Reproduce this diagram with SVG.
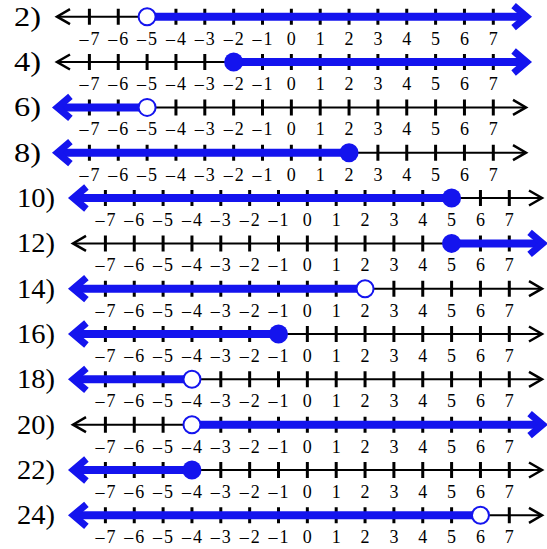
<svg xmlns="http://www.w3.org/2000/svg" xmlns:xlink="http://www.w3.org/1999/xlink" width="547" height="549" viewBox="0 0 547 549">
<style>
.ax{stroke:#000;stroke-width:2;fill:none}
.ah{stroke:#000;stroke-width:2.5;fill:none;stroke-linejoin:miter}
.tk{stroke:#000;stroke-width:3;fill:none}
.bl{stroke:#1414ee;stroke-width:8;fill:none}
.bh{stroke:#1414ee;stroke-width:7;fill:none;stroke-linejoin:miter;stroke-miterlimit:10}
.op{fill:#fff;stroke:#1414ee;stroke-width:2}
.cl{fill:#1414ee}
.lb text{font-family:"Liberation Serif","Times New Roman",serif;font-size:18px;text-anchor:middle;fill:#000}
.num{font-family:"Liberation Serif","Times New Roman",serif;font-size:27px;fill:#000}
</style>
<defs>
<path id="ticks" class="tk" d="M89.4-8v16M118.25-8v16M147.1-8v16M175.95-8v16M204.8-8v16M233.65-8v16M262.5-8v16M291.35-8v16M320.2-8v16M349.05-8v16M377.9-8v16M406.75-8v16M435.6-8v16M464.45-8v16M493.3-8v16"/>
</defs>

<!-- Row 2 -->
<g id="row2">
<text class="num" x="14" y="25.7" textLength="27" lengthAdjust="spacingAndGlyphs">2)</text>
<g transform="translate(0,16.7)">
<path class="ax" d="M57 0H147.1"/>
<polyline class="ah" points="70,-7.5 57,0 70,7.5"/>
<use xlink:href="#ticks"/>
<g class="connectors"><path class="bl" d="M147.1 0H526"/><polyline class="bh" points="513.6,-11 526.6,0 513.6,11"/></g>
<circle class="op" cx="147.1" cy="0" r="8.5"/>
<g class="lb" transform="translate(0,27.8)">
<text x="89.4" textLength="20">–7</text><text x="118.25" textLength="20">–6</text><text x="147.1" textLength="20">–5</text><text x="175.95" textLength="20">–4</text><text x="204.8" textLength="20">–3</text><text x="233.65" textLength="20">–2</text><text x="262.5" textLength="20">–1</text><text x="291.35" textLength="10">0</text><text x="320.2" textLength="10">1</text><text x="349.05" textLength="10">2</text><text x="377.9" textLength="10">3</text><text x="406.75" textLength="10">4</text><text x="435.6" textLength="10">5</text><text x="464.45" textLength="10">6</text><text x="493.3" textLength="10">7</text>
</g></g></g>

<!-- Row 4 -->
<g id="row4">
<text class="num" x="14" y="71" textLength="27" lengthAdjust="spacingAndGlyphs">4)</text>
<g transform="translate(0,62)">
<path class="ax" d="M57 0H233.65"/>
<polyline class="ah" points="70,-7.5 57,0 70,7.5"/>
<use xlink:href="#ticks"/>
<g class="connectors"><path class="bl" d="M233.65 0H526"/><polyline class="bh" points="513.6,-11 526.6,0 513.6,11"/></g>
<circle class="cl" cx="233.65" cy="0" r="9.5"/>
<g class="lb" transform="translate(0,27.8)">
<text x="89.4" textLength="20">–7</text><text x="118.25" textLength="20">–6</text><text x="147.1" textLength="20">–5</text><text x="175.95" textLength="20">–4</text><text x="204.8" textLength="20">–3</text><text x="233.65" textLength="20">–2</text><text x="262.5" textLength="20">–1</text><text x="291.35" textLength="10">0</text><text x="320.2" textLength="10">1</text><text x="349.05" textLength="10">2</text><text x="377.9" textLength="10">3</text><text x="406.75" textLength="10">4</text><text x="435.6" textLength="10">5</text><text x="464.45" textLength="10">6</text><text x="493.3" textLength="10">7</text>
</g></g></g>

<!-- Row 6 -->
<g id="row6">
<text class="num" x="14" y="116.4" textLength="27" lengthAdjust="spacingAndGlyphs">6)</text>
<g transform="translate(0,107.4)">
<path class="ax" d="M147.1 0H526"/>
<polyline class="ah" points="513,-7.5 526,0 513,7.5"/>
<use xlink:href="#ticks"/>
<g class="connectors"><path class="bl" d="M58 0H147.1"/><polyline class="bh" points="70.4,-11 57.4,0 70.4,11"/></g>
<circle class="op" cx="147.1" cy="0" r="8.5"/>
<g class="lb" transform="translate(0,27.8)">
<text x="89.4" textLength="20">–7</text><text x="118.25" textLength="20">–6</text><text x="147.1" textLength="20">–5</text><text x="175.95" textLength="20">–4</text><text x="204.8" textLength="20">–3</text><text x="233.65" textLength="20">–2</text><text x="262.5" textLength="20">–1</text><text x="291.35" textLength="10">0</text><text x="320.2" textLength="10">1</text><text x="349.05" textLength="10">2</text><text x="377.9" textLength="10">3</text><text x="406.75" textLength="10">4</text><text x="435.6" textLength="10">5</text><text x="464.45" textLength="10">6</text><text x="493.3" textLength="10">7</text>
</g></g></g>

<!-- Row 8 -->
<g id="row8">
<text class="num" x="14" y="161.7" textLength="27" lengthAdjust="spacingAndGlyphs">8)</text>
<g transform="translate(0,152.7)">
<path class="ax" d="M349.05 0H526"/>
<polyline class="ah" points="513,-7.5 526,0 513,7.5"/>
<use xlink:href="#ticks"/>
<g class="connectors"><path class="bl" d="M58 0H349.05"/><polyline class="bh" points="70.4,-11 57.4,0 70.4,11"/></g>
<circle class="cl" cx="349.05" cy="0" r="9.5"/>
<g class="lb" transform="translate(0,27.8)">
<text x="89.4" textLength="20">–7</text><text x="118.25" textLength="20">–6</text><text x="147.1" textLength="20">–5</text><text x="175.95" textLength="20">–4</text><text x="204.8" textLength="20">–3</text><text x="233.65" textLength="20">–2</text><text x="262.5" textLength="20">–1</text><text x="291.35" textLength="10">0</text><text x="320.2" textLength="10">1</text><text x="349.05" textLength="10">2</text><text x="377.9" textLength="10">3</text><text x="406.75" textLength="10">4</text><text x="435.6" textLength="10">5</text><text x="464.45" textLength="10">6</text><text x="493.3" textLength="10">7</text>
</g></g></g>

<!-- Row 10 -->
<g id="row10">
<text class="num" x="17" y="207" textLength="38" lengthAdjust="spacingAndGlyphs">10)</text>
<g transform="translate(16,198)">
<path class="ax" d="M435.6 0H526"/>
<polyline class="ah" points="513,-7.5 526,0 513,7.5"/>
<use xlink:href="#ticks"/>
<g class="connectors"><path class="bl" d="M58 0H435.6"/><polyline class="bh" points="70.4,-11 57.4,0 70.4,11"/></g>
<circle class="cl" cx="435.6" cy="0" r="9.5"/>
<g class="lb" transform="translate(0,27.8)">
<text x="89.4" textLength="20">–7</text><text x="118.25" textLength="20">–6</text><text x="147.1" textLength="20">–5</text><text x="175.95" textLength="20">–4</text><text x="204.8" textLength="20">–3</text><text x="233.65" textLength="20">–2</text><text x="262.5" textLength="20">–1</text><text x="291.35" textLength="10">0</text><text x="320.2" textLength="10">1</text><text x="349.05" textLength="10">2</text><text x="377.9" textLength="10">3</text><text x="406.75" textLength="10">4</text><text x="435.6" textLength="10">5</text><text x="464.45" textLength="10">6</text><text x="493.3" textLength="10">7</text>
</g></g></g>

<!-- Row 12 -->
<g id="row12">
<text class="num" x="17" y="252.4" textLength="38" lengthAdjust="spacingAndGlyphs">12)</text>
<g transform="translate(16,243.4)">
<path class="ax" d="M57 0H435.6"/>
<polyline class="ah" points="70,-7.5 57,0 70,7.5"/>
<use xlink:href="#ticks"/>
<g class="connectors"><path class="bl" d="M435.6 0H526"/><polyline class="bh" points="513.6,-11 526.6,0 513.6,11"/></g>
<circle class="cl" cx="435.6" cy="0" r="9.5"/>
<g class="lb" transform="translate(0,27.8)">
<text x="89.4" textLength="20">–7</text><text x="118.25" textLength="20">–6</text><text x="147.1" textLength="20">–5</text><text x="175.95" textLength="20">–4</text><text x="204.8" textLength="20">–3</text><text x="233.65" textLength="20">–2</text><text x="262.5" textLength="20">–1</text><text x="291.35" textLength="10">0</text><text x="320.2" textLength="10">1</text><text x="349.05" textLength="10">2</text><text x="377.9" textLength="10">3</text><text x="406.75" textLength="10">4</text><text x="435.6" textLength="10">5</text><text x="464.45" textLength="10">6</text><text x="493.3" textLength="10">7</text>
</g></g></g>

<!-- Row 14 -->
<g id="row14">
<text class="num" x="17" y="297.7" textLength="38" lengthAdjust="spacingAndGlyphs">14)</text>
<g transform="translate(16,288.7)">
<path class="ax" d="M349.05 0H526"/>
<polyline class="ah" points="513,-7.5 526,0 513,7.5"/>
<use xlink:href="#ticks"/>
<g class="connectors"><path class="bl" d="M58 0H349.05"/><polyline class="bh" points="70.4,-11 57.4,0 70.4,11"/></g>
<circle class="op" cx="349.05" cy="0" r="8.5"/>
<g class="lb" transform="translate(0,27.8)">
<text x="89.4" textLength="20">–7</text><text x="118.25" textLength="20">–6</text><text x="147.1" textLength="20">–5</text><text x="175.95" textLength="20">–4</text><text x="204.8" textLength="20">–3</text><text x="233.65" textLength="20">–2</text><text x="262.5" textLength="20">–1</text><text x="291.35" textLength="10">0</text><text x="320.2" textLength="10">1</text><text x="349.05" textLength="10">2</text><text x="377.9" textLength="10">3</text><text x="406.75" textLength="10">4</text><text x="435.6" textLength="10">5</text><text x="464.45" textLength="10">6</text><text x="493.3" textLength="10">7</text>
</g></g></g>

<!-- Row 16 -->
<g id="row16">
<text class="num" x="17" y="343" textLength="38" lengthAdjust="spacingAndGlyphs">16)</text>
<g transform="translate(16,334)">
<path class="ax" d="M262.5 0H526"/>
<polyline class="ah" points="513,-7.5 526,0 513,7.5"/>
<use xlink:href="#ticks"/>
<g class="connectors"><path class="bl" d="M58 0H262.5"/><polyline class="bh" points="70.4,-11 57.4,0 70.4,11"/></g>
<circle class="cl" cx="262.5" cy="0" r="9.5"/>
<g class="lb" transform="translate(0,27.8)">
<text x="89.4" textLength="20">–7</text><text x="118.25" textLength="20">–6</text><text x="147.1" textLength="20">–5</text><text x="175.95" textLength="20">–4</text><text x="204.8" textLength="20">–3</text><text x="233.65" textLength="20">–2</text><text x="262.5" textLength="20">–1</text><text x="291.35" textLength="10">0</text><text x="320.2" textLength="10">1</text><text x="349.05" textLength="10">2</text><text x="377.9" textLength="10">3</text><text x="406.75" textLength="10">4</text><text x="435.6" textLength="10">5</text><text x="464.45" textLength="10">6</text><text x="493.3" textLength="10">7</text>
</g></g></g>

<!-- Row 18 -->
<g id="row18">
<text class="num" x="17" y="388.3" textLength="38" lengthAdjust="spacingAndGlyphs">18)</text>
<g transform="translate(16,379.3)">
<path class="ax" d="M175.95 0H526"/>
<polyline class="ah" points="513,-7.5 526,0 513,7.5"/>
<use xlink:href="#ticks"/>
<g class="connectors"><path class="bl" d="M58 0H175.95"/><polyline class="bh" points="70.4,-11 57.4,0 70.4,11"/></g>
<circle class="op" cx="175.95" cy="0" r="8.5"/>
<g class="lb" transform="translate(0,27.8)">
<text x="89.4" textLength="20">–7</text><text x="118.25" textLength="20">–6</text><text x="147.1" textLength="20">–5</text><text x="175.95" textLength="20">–4</text><text x="204.8" textLength="20">–3</text><text x="233.65" textLength="20">–2</text><text x="262.5" textLength="20">–1</text><text x="291.35" textLength="10">0</text><text x="320.2" textLength="10">1</text><text x="349.05" textLength="10">2</text><text x="377.9" textLength="10">3</text><text x="406.75" textLength="10">4</text><text x="435.6" textLength="10">5</text><text x="464.45" textLength="10">6</text><text x="493.3" textLength="10">7</text>
</g></g></g>

<!-- Row 20 -->
<g id="row20">
<text class="num" x="17" y="433.7" textLength="38" lengthAdjust="spacingAndGlyphs">20)</text>
<g transform="translate(16,424.7)">
<path class="ax" d="M57 0H175.95"/>
<polyline class="ah" points="70,-7.5 57,0 70,7.5"/>
<use xlink:href="#ticks"/>
<g class="connectors"><path class="bl" d="M175.95 0H526"/><polyline class="bh" points="513.6,-11 526.6,0 513.6,11"/></g>
<circle class="op" cx="175.95" cy="0" r="8.5"/>
<g class="lb" transform="translate(0,27.8)">
<text x="89.4" textLength="20">–7</text><text x="118.25" textLength="20">–6</text><text x="147.1" textLength="20">–5</text><text x="175.95" textLength="20">–4</text><text x="204.8" textLength="20">–3</text><text x="233.65" textLength="20">–2</text><text x="262.5" textLength="20">–1</text><text x="291.35" textLength="10">0</text><text x="320.2" textLength="10">1</text><text x="349.05" textLength="10">2</text><text x="377.9" textLength="10">3</text><text x="406.75" textLength="10">4</text><text x="435.6" textLength="10">5</text><text x="464.45" textLength="10">6</text><text x="493.3" textLength="10">7</text>
</g></g></g>

<!-- Row 22 -->
<g id="row22">
<text class="num" x="17" y="479" textLength="38" lengthAdjust="spacingAndGlyphs">22)</text>
<g transform="translate(16,470)">
<path class="ax" d="M175.95 0H526"/>
<polyline class="ah" points="513,-7.5 526,0 513,7.5"/>
<use xlink:href="#ticks"/>
<g class="connectors"><path class="bl" d="M58 0H175.95"/><polyline class="bh" points="70.4,-11 57.4,0 70.4,11"/></g>
<circle class="cl" cx="175.95" cy="0" r="9.5"/>
<g class="lb" transform="translate(0,27.8)">
<text x="89.4" textLength="20">–7</text><text x="118.25" textLength="20">–6</text><text x="147.1" textLength="20">–5</text><text x="175.95" textLength="20">–4</text><text x="204.8" textLength="20">–3</text><text x="233.65" textLength="20">–2</text><text x="262.5" textLength="20">–1</text><text x="291.35" textLength="10">0</text><text x="320.2" textLength="10">1</text><text x="349.05" textLength="10">2</text><text x="377.9" textLength="10">3</text><text x="406.75" textLength="10">4</text><text x="435.6" textLength="10">5</text><text x="464.45" textLength="10">6</text><text x="493.3" textLength="10">7</text>
</g></g></g>

<!-- Row 24 -->
<g id="row24">
<text class="num" x="17" y="524.3" textLength="38" lengthAdjust="spacingAndGlyphs">24)</text>
<g transform="translate(16,515.3)">
<path class="ax" d="M464.45 0H526"/>
<polyline class="ah" points="513,-7.5 526,0 513,7.5"/>
<use xlink:href="#ticks"/>
<g class="connectors"><path class="bl" d="M58 0H464.45"/><polyline class="bh" points="70.4,-11 57.4,0 70.4,11"/></g>
<circle class="op" cx="464.45" cy="0" r="8.5"/>
<g class="lb" transform="translate(0,27.8)">
<text x="89.4" textLength="20">–7</text><text x="118.25" textLength="20">–6</text><text x="147.1" textLength="20">–5</text><text x="175.95" textLength="20">–4</text><text x="204.8" textLength="20">–3</text><text x="233.65" textLength="20">–2</text><text x="262.5" textLength="20">–1</text><text x="291.35" textLength="10">0</text><text x="320.2" textLength="10">1</text><text x="349.05" textLength="10">2</text><text x="377.9" textLength="10">3</text><text x="406.75" textLength="10">4</text><text x="435.6" textLength="10">5</text><text x="464.45" textLength="10">6</text><text x="493.3" textLength="10">7</text>
</g></g></g>
</svg>
